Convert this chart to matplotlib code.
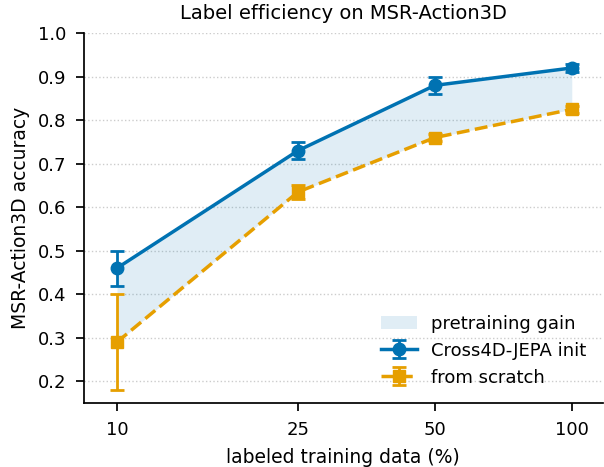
import matplotlib
matplotlib.use("Agg")
import matplotlib.pyplot as plt
from matplotlib.ticker import NullLocator, FixedLocator, FixedFormatter

# data
fractions = [10, 25, 50, 100]
jepa_acc = [0.46, 0.73, 0.88, 0.92]
jepa_err = [0.04, 0.02, 0.02, 0.01]
scratch_acc = [0.29, 0.635, 0.76, 0.825]
scratch_err = [0.11, 0.015, 0.008, 0.008]

BLUE = "#0072B2"
ORANGE = "#E69F00"

plt.rcParams.update({
    "axes.linewidth": 1.25,
    "xtick.major.size": 6, "ytick.major.size": 6,
    "xtick.major.width": 1.25, "ytick.major.width": 1.25,
    "xtick.major.pad": 7, "ytick.major.pad": 7,
})

fig, ax = plt.subplots(figsize=(6.04, 4.67), dpi=100)
fig.subplots_adjust(left=0.139, right=0.998, bottom=0.137, top=0.929)

ax.fill_between(fractions, scratch_acc, jepa_acc, color=BLUE, alpha=0.12,
                linewidth=0, label="pretraining gain")
ax.errorbar(fractions, jepa_acc, yerr=jepa_err, color=BLUE, marker="o",
            markersize=9, linewidth=2.5, elinewidth=2, capsize=5, capthick=2,
            label="Cross4D-JEPA init")
ax.errorbar(fractions, scratch_acc, yerr=scratch_err, color=ORANGE, marker="s",
            markersize=8.5, linewidth=2.5, linestyle="--",
            elinewidth=2, capsize=5, capthick=2, label="from scratch")

ax.set_xscale("log")
ax.set_xlim(8.46, 117)
ax.set_ylim(0.15, 1.0)
ax.xaxis.set_major_locator(FixedLocator(fractions))
ax.xaxis.set_major_formatter(FixedFormatter([str(f) for f in fractions]))
ax.xaxis.set_minor_locator(NullLocator())
ax.set_yticks([0.2, 0.3, 0.4, 0.5, 0.6, 0.7, 0.8, 0.9, 1.0])

ax.grid(axis="y", linestyle=":", color="#cccccc", linewidth=1)
ax.set_axisbelow(True)
for side in ("top", "right"):
    ax.spines[side].set_visible(False)

ax.tick_params(labelsize=13)
ax.set_xlabel("labeled training data (%)", fontsize=13.5, labelpad=6.5)
ax.set_ylabel("MSR-Action3D accuracy", fontsize=13.5, labelpad=5.5)
ax.set_title("Label efficiency on MSR-Action3D", fontsize=14, pad=10)

ax.legend(loc="lower right", frameon=False, fontsize=13)

fig.savefig("out.png", dpi=100)
